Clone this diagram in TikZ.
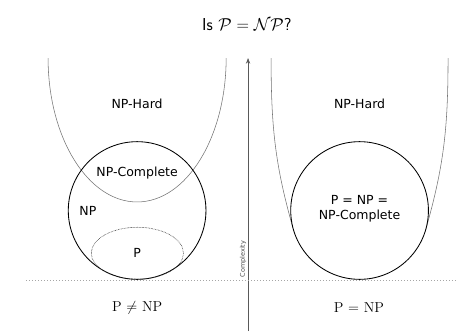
\documentclass[tikz,border=0pt]{standalone}
\usepackage{fontspec}
\usepackage{amsmath}
\usepackage{amssymb}
\usepackage{tikz}
\usetikzlibrary{arrows.meta, positioning, calc}
\newfontfamily\labelfont{DejaVu Sans}
\colorlet{hardline}{black!55}
\colorlet{axisline}{black!65}

\begin{document}
\begin{tikzpicture}[>=Stealth,
    classline/.style={line width=0.85pt},
    hardcurve/.style={draw=hardline, line width=0.55pt},
    classlabel/.style={font=\labelfont\fontsize{12.5}{15}\selectfont, align=center},
    caselabel/.style={font=\Large}]

    \useasboundingbox (0,0) rectangle (16.03,11.64);

    % Title
    \node (title) at (8.68,10.79) {\LARGE\sffamily Is $\mathcal{P} = \mathcal{NP}$?};

    % Complexity axis
    \coordinate (axisbot) at (8.72,0);
    \coordinate (axistop) at (8.72,9.60);
    \draw[->, axisline, line width=0.6pt] (axisbot) -- (axistop);
    \node[rotate=90, anchor=south, inner sep=1pt,
      font=\labelfont\fontsize{6.5}{8}\selectfont, text=black!70]
      (complexity) at (8.70,2.53) {Complexity};

    % Dotted base line
    \coordinate (baseL) at (0.91,1.79);
    \coordinate (baseR) at (16.03,1.79);
    \draw[black!35, line width=0.5pt, dash pattern=on 0.5pt off 2.5pt] (baseL) -- (baseR);

    % Left: P != NP
    \draw[hardcurve] (1.69,9.60)
      arc[start angle=180, end angle=360, x radius=3.13, y radius=5.06];
    \draw[classline] (4.82,4.24) circle[radius=2.42];
    \draw[black!80, line width=0.6pt, dash pattern=on 0.6pt off 0.9pt]
      (4.83,2.74) ellipse[x radius=1.62, y radius=0.91];

    \node[classlabel] (hardL) at (4.82,7.98) {NP-Hard};
    \node[classlabel] (completeL) at (4.82,5.55) {NP-Complete};
    \node[classlabel] (npL) at (3.09,4.22) {NP};
    \node[classlabel] (pL) at (4.82,2.74) {P};
    \node[caselabel] (caseL) at (4.82,0.81) {P $\neq$ NP};

    % Right: P = NP
    \coordinate (npc) at (12.64,4.24);
    \draw[hardcurve] (9.53,9.60) to[out=-90, in=106] ($(npc)+(196:2.42)$);
    \draw[hardcurve] (15.75,9.60) to[out=-90, in=74] ($(npc)+(344:2.42)$);
    \draw[classline, fill=white] (npc) circle[radius=2.42];

    \node[classlabel] (hardR) at (12.64,7.98) {NP-Hard};
    \node[classlabel] (allR) at (12.64,4.29) {P = NP =\\NP-Complete};
    \node[caselabel] (caseR) at (12.62,0.81) {P = NP};

  \end{tikzpicture}
\end{document}
